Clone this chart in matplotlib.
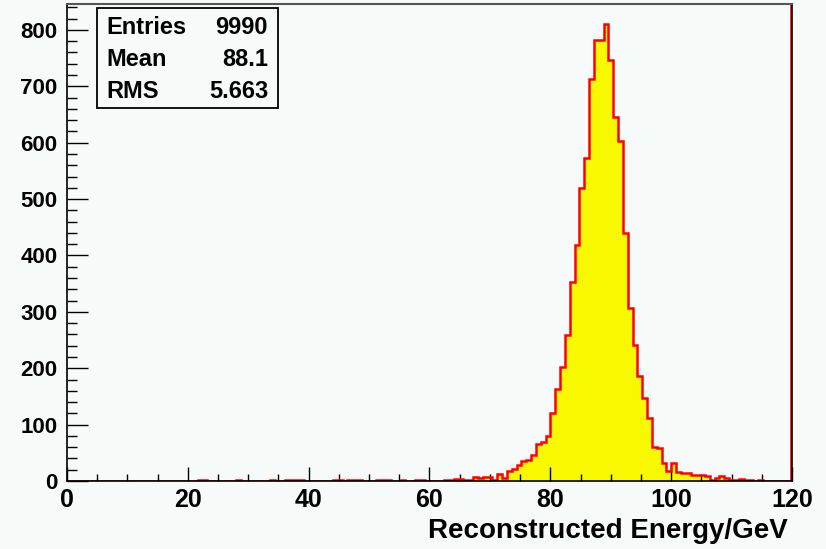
import matplotlib
matplotlib.use("Agg")
import matplotlib.pyplot as plt
import numpy as np
from matplotlib.patches import Rectangle
from matplotlib.ticker import MultipleLocator

plt.rcParams['font.family'] = ['Liberation Sans', 'DejaVu Sans']
plt.rcParams['font.weight'] = 'bold'

# histogram: 150 bins of 0.8 GeV between 0 and 120 GeV
e_min = 0.0
e_max = 120.0
counts = [
    0, 0, 0, 0, 0, 0, 0, 0, 0, 0,            # 0 - 8
    0, 0, 0, 0, 0, 0, 0, 0, 0, 0,            # 8 - 16
    0, 0, 0, 0, 0, 0, 0, 1, 1, 0,            # 16 - 24
    0, 0, 0, 0, 0, 1, 0, 0, 0, 0,            # 24 - 32
    0, 0, 1, 0, 0, 1, 1, 1, 1, 0,            # 32 - 40
    0, 0, 0, 0, 0, 1, 1, 0, 1, 1,            # 40 - 48
    1, 0, 0, 0, 1, 1, 1, 0, 0, 1,            # 48 - 56
    0, 0, 1, 1, 0, 0, 0, 0, 1, 2,            # 56 - 64
    4, 4, 2, 2, 7, 5, 7, 7, 2, 13,           # 64 - 72
    6, 18, 21, 29, 36, 37, 46, 65, 70, 80,   # 72 - 80
    120, 164, 203, 259, 353, 418, 519, 572, 713, 783,   # 80 - 88
    783, 810, 746, 645, 603, 439, 306, 241, 187, 147,   # 88 - 96
    112, 61, 59, 32, 18, 32, 16, 14, 15, 10,  # 96 - 104
    10, 11, 8, 1, 5, 8, 5, 1, 1, 3,          # 104 - 112
    1, 1, 0, 2, 0, 0, 0, 0, 0, 0,            # 112 - 120
]
stat_names = ["Entries", "Mean", "RMS"]
stat_values = ["9990", "88.1", "5.663"]
x_title = "Reconstructed Energy/GeV"

bg = '#f6faf8'
W, H = 826, 549

edges = np.linspace(e_min, e_max, len(counts) + 1)

fig = plt.figure(figsize=(W / 100, H / 100), dpi=100, facecolor=bg)
ax = fig.add_axes([67 / W, 1 - 481 / H, (792 - 67) / W, (481 - 4) / H])
ax.set_facecolor(bg)

ax.stairs(counts, edges, fill=True, color='#f8f800', zorder=1)
ax.stairs(counts, edges, color='#ff0000', lw=1.8, zorder=2)
# red frame edge just inside the right axis
ax.axvline(e_max, color='#ff0000', lw=2.6, zorder=2)

ax.set_xlim(e_min, e_max)
ax.set_ylim(0, 846)

ax.xaxis.set_major_locator(MultipleLocator(20))
ax.xaxis.set_minor_locator(MultipleLocator(5))
ax.yaxis.set_major_locator(MultipleLocator(100))
ax.yaxis.set_minor_locator(MultipleLocator(20))

ax.tick_params(axis='x', which='major', direction='in', length=10, width=1,
               labelsize=18, pad=5)
ax.tick_params(axis='x', which='minor', direction='in', length=5, width=1)
ax.tick_params(axis='y', which='major', direction='in', length=15, width=1,
               labelsize=16, pad=7)
ax.tick_params(axis='y', which='minor', direction='in', length=7, width=1)

for side in ['left', 'bottom', 'right']:
    ax.spines[side].set_color('black')
    ax.spines[side].set_linewidth(1.2)
ax.spines['top'].set_color('#555555')
ax.spines['top'].set_linewidth(1.5)

ax.set_xlabel(x_title, fontsize=20, fontweight='bold', ha='right', va='center')
ax.xaxis.set_label_coords(1 - 4 / 725, -(531 - 481) / 477)

# stats box
box = Rectangle((97 / W, 1 - 108 / H), (278 - 97) / W, (108 - 8) / H,
                transform=fig.transFigure, facecolor=bg, edgecolor='black',
                lw=1.3, zorder=5)
fig.patches.append(box)
for k, (name, val) in enumerate(zip(stat_names, stat_values)):
    yc = 1 - [27, 60, 91][k] / H
    fig.text(106 / W, yc, name, ha='left', va='center', fontsize=17,
             fontweight='bold', zorder=6)
    fig.text(268 / W, yc, val, ha='right', va='center', fontsize=17,
             fontweight='bold', zorder=6)

fig.savefig('out.png', dpi=100, facecolor=bg)
